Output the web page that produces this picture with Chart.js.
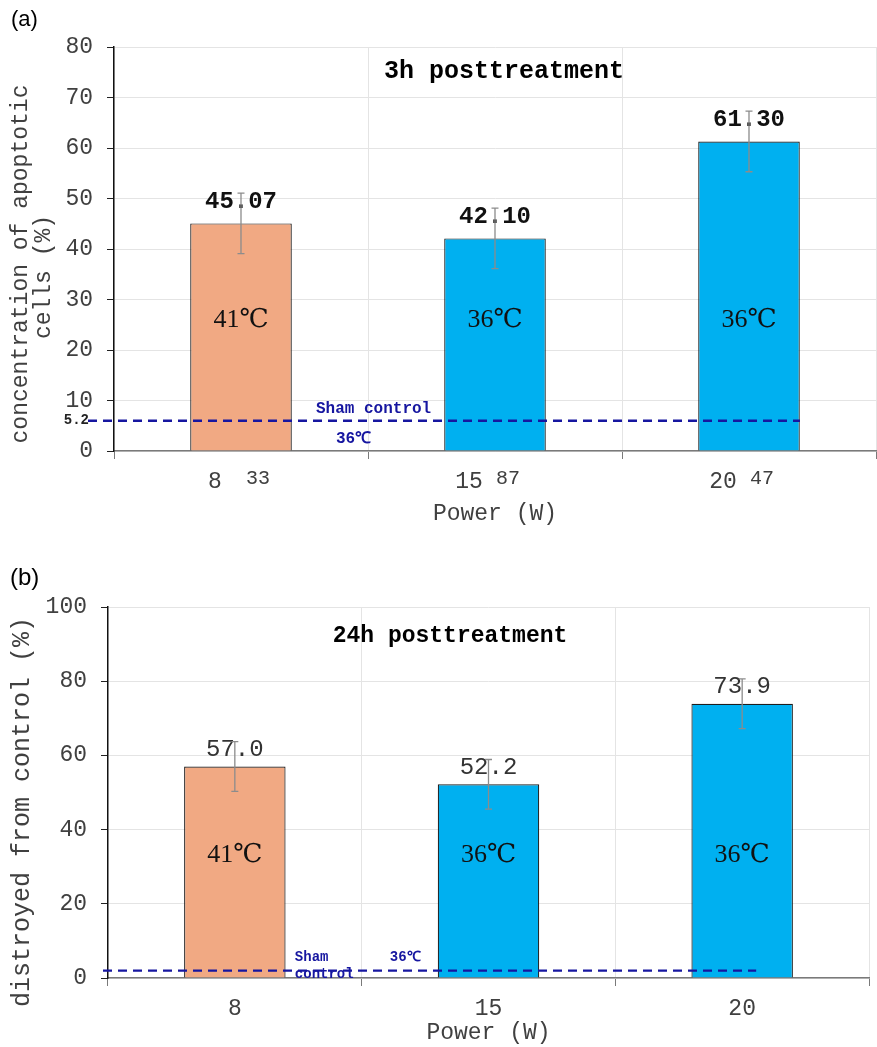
<!DOCTYPE html>
<html><head><meta charset="utf-8">
<script src="https://cdn.jsdelivr.net/npm/chart.js@4"></script>
<style>
html,body{margin:0;padding:0;background:#fff;}
#wrap{position:relative;width:877px;height:1047px;overflow:hidden;}
canvas{position:absolute;left:0;}
#c1{top:0;} #c2{top:540px;}
</style></head><body>
<div id="wrap"><canvas id="c1" width="877" height="540"></canvas><canvas id="c2" width="877" height="507"></canvas></div>
<script>
// ---- data ----
const powerMain = ["8", "15", "20"];
const powerSuffixTop = ["33", "87", "47"];
const apoptotic3h = [45.07, 42.10, 61.30];
const apoptotic3hErr = [6, 6, 6];
const destroyed24h = [57.0, 52.2, 73.9];
const destroyed24hErr = [6.7, 6.7, 6.7];
const tempLabels = ["41℃", "36℃", "36℃"];
const shamTopLine = 6.0;
const shamTopLabel = "5.2";
const shamBottomLine = 2;
const yRangeTop = [0, 80, 10];
const yRangeBottom = [0, 100, 20];
const barColors = ["#F1A983", "#00B0F0", "#00B0F0"];

const MONO = '"Liberation Mono", "DejaVu Sans Mono", monospace';
const TICKC = '#404040';
const NAVY = '#1616A0';

function overlay(o) {
  return {
    id: 'ov' + o.key,
    afterDatasetsDraw(chart) {
      const ctx = chart.ctx, xs = chart.scales.x, ys = chart.scales.y;
      const meta = chart.getDatasetMeta(0);
      ctx.save();
      // temperature labels inside bars
      ctx.font = '26px "Liberation Serif", "DejaVu Serif", "Noto Sans CJK SC", serif';
      ctx.fillStyle = '#111'; ctx.textAlign = 'center'; ctx.textBaseline = 'middle';
      meta.data.forEach((b, i) => ctx.fillText(tempLabels[i], b.x, ys.getPixelForValue(o.tempY)));
      // value labels
      ctx.font = o.valFont; ctx.fillStyle = o.valColor;
      meta.data.forEach((b, i) => ctx.fillText(o.values[i].toFixed(o.dec), b.x, b.y - o.valGap));
      // error bars
      ctx.strokeStyle = '#8c8c8c'; ctx.lineWidth = 1.3;
      meta.data.forEach((b, i) => {
        const y1 = ys.getPixelForValue(o.values[i] + o.errs[i]);
        const y2 = ys.getPixelForValue(o.values[i] - o.errs[i]);
        ctx.beginPath();
        ctx.moveTo(b.x, y1); ctx.lineTo(b.x, y2);
        ctx.moveTo(b.x - 3.5, y1); ctx.lineTo(b.x + 3.5, y1);
        ctx.moveTo(b.x - 3.5, y2); ctx.lineTo(b.x + 3.5, y2);
        ctx.stroke();
      });
      // sham control dashed line
      const ly = ys.getPixelForValue(o.sham);
      ctx.strokeStyle = NAVY; ctx.lineWidth = 2.4; ctx.setLineDash([9, 6]);
      ctx.beginPath();
      ctx.moveTo(chart.chartArea.left + o.shamStart, ly);
      ctx.lineTo(xs.getPixelForValue(2) + o.shamEnd, ly);
      ctx.stroke();
      ctx.setLineDash([]);
      ctx.fillStyle = NAVY; ctx.textAlign = 'left';
      ctx.font = 'bold ' + o.shamFont + 'px ' + MONO;
      const x0 = xs.getPixelForValue(0);
      o.shamTexts.forEach(t => ctx.fillText(t[0], x0 + t[1], ly + t[2]));
      if (o.shamLabel) {
        ctx.font = 'bold 14px ' + MONO; ctx.fillStyle = '#222'; ctx.textAlign = 'right';
        ctx.fillText(o.shamLabel, chart.chartArea.left - 25, ly);
      }
      ctx.restore();
    },
    afterDraw(chart) {
      const ctx = chart.ctx, xs = chart.scales.x;
      ctx.save();
      // panel letter
      ctx.fillStyle = '#000'; ctx.textBaseline = 'middle'; ctx.textAlign = 'left';
      ctx.font = o.letterSize + 'px "Liberation Sans", Arial, sans-serif';
      ctx.fillText(o.letter, o.letterX, o.letterY);
      // chart title
      ctx.font = 'bold ' + o.titleSize + 'px ' + MONO; ctx.textAlign = 'center';
      ctx.fillText(o.title, o.titleX, chart.chartArea.top + o.titleDy);
      // y-axis title
      ctx.fillStyle = TICKC;
      o.yTitle.forEach(t => {
        ctx.save();
        ctx.translate(t[1], t[2]); ctx.rotate(-Math.PI / 2);
        ctx.font = t[3] + 'px ' + MONO;
        ctx.fillText(t[0], 0, 0);
        ctx.restore();
      });
      // raised suffix on x tick labels
      if (o.suffix) {
        ctx.font = '20px ' + MONO; ctx.textAlign = 'left'; ctx.fillStyle = TICKC;
        o.suffix.forEach((s, i) => ctx.fillText(s, xs.getPixelForValue(i) + o.sufDx[i], chart.chartArea.bottom + 28));
      }
      ctx.restore();
    }
  };
}

function makeChart(id, cfg) {
  return new Chart(document.getElementById(id), {
    type: 'bar',
    data: {
      labels: powerMain,
      datasets: [{
        data: cfg.values,
        backgroundColor: barColors,
        borderColor: '#1e1e1e',
        borderWidth: 1.2,
        barPercentage: 0.4,
        categoryPercentage: 1.0
      }]
    },
    options: {
      responsive: false,
      animation: false,
      devicePixelRatio: 1,
      layout: { padding: { left: 0, top: cfg.padTop, right: cfg.padRight, bottom: 0 } },
      plugins: { legend: { display: false }, tooltip: { enabled: false } },
      scales: {
        x: {
          grid: { offset: true, color: '#e4e4e4', tickColor: '#7a7a7a', tickLength: 8 },
          border: { color: '#7a7a7a', width: 1.5 },
          ticks: { font: { family: MONO, size: 23 }, color: TICKC, padding: 9, labelOffset: cfg.labelOffset, maxRotation: 0, autoSkip: false },
          title: { display: true, text: 'Power (W)', font: { family: MONO, size: 23 }, color: TICKC, padding: { top: 0, bottom: cfg.xTitlePad } },
          afterFit(s) { s.height = cfg.xHeight; }
        },
        y: {
          min: cfg.yr[0], max: cfg.yr[1],
          ticks: { stepSize: cfg.yr[2], font: { family: MONO, size: 23 }, color: TICKC, padding: 14 },
          grid: { color: '#e4e4e4', tickColor: '#222', tickLength: 7 },
          border: { color: '#111', width: 1.5 },
          afterFit(s) { s.width = cfg.yWidth; }
        }
      }
    },
    plugins: [overlay(cfg.ov)]
  });
}

makeChart('c1', {
  values: apoptotic3h, yr: yRangeTop, padTop: 47, padRight: 1, xHeight: 89, yWidth: 114, xTitlePad: 12, labelOffset: -26,
  ov: {
    key: 'a', values: apoptotic3h, errs: apoptotic3hErr, dec: 2, tempY: 26,
    valFont: 'bold 24px ' + MONO, valColor: '#111', valGap: 21,
    sham: shamTopLine, shamStart: -26, shamEnd: 51, shamFont: 16, shamLabel: shamTopLabel,
    shamTexts: [['Sham control', 75, -12], ['36℃', 95, 18]],
    letter: '(a)', letterX: 11, letterY: 20, letterSize: 22,
    title: '3h posttreatment', titleSize: 25, titleX: 504, titleDy: 25,
    yTitle: [['concentration of apoptotic', 21, 264, 23], ['cells (%)', 44, 277, 23]],
    suffix: powerSuffixTop, sufDx: [5, 1, 1]
  }
});

makeChart('c2', {
  values: destroyed24h, yr: yRangeBottom, padTop: 67, padRight: 8, xHeight: 69, yWidth: 108, xTitlePad: 0, labelOffset: 0,
  ov: {
    key: 'b', values: destroyed24h, errs: destroyed24hErr, dec: 1, tempY: 33,
    valFont: '24px ' + MONO, valColor: '#333', valGap: 17,
    sham: shamBottomLine, shamStart: -5, shamEnd: 14, shamFont: 14, shamLabel: null,
    shamTexts: [['Sham', 60, -13], ['control', 60, 4], ['36℃', 155, -13]],
    letter: '(b)', letterX: 10, letterY: 38, letterSize: 24,
    title: '24h posttreatment', titleSize: 23, titleX: 450, titleDy: 29,
    yTitle: [['distroyed from control (%)', 22, 272, 25]],
    suffix: null
  }
});
</script>
</body></html>
